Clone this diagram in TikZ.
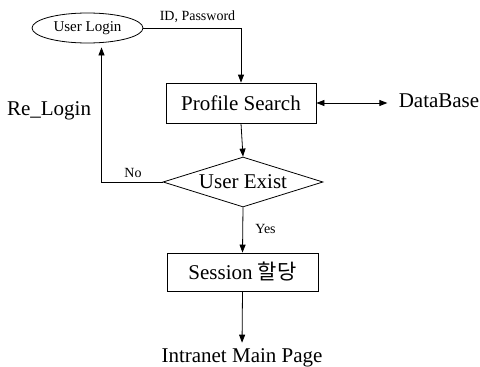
\documentclass[tikz,border=0pt]{standalone}
\usepackage{fontspec}
\setmainfont{Liberation Serif}
\newfontfamily\krfont{Noto Sans CJK KR}
\usetikzlibrary{arrows.meta, shapes.geometric}

\begin{document}
\begin{tikzpicture}[x=1pt, y=-1pt, line width=0.8pt,
	arr/.style={-{Triangle[length=8pt,width=6pt]}},
	dbarr/.style={{Triangle[length=8pt,width=6pt]}-{Triangle[length=8pt,width=6pt]}},
	box/.style={draw, rectangle, inner sep=0pt, font=\fontsize{21}{24}\selectfont},
	lbl/.style={anchor=base, inner sep=0pt, font=\fontsize{14}{16}\selectfont},
	big/.style={anchor=base, inner sep=0pt, font=\fontsize{21}{24}\selectfont}]
	\useasboundingbox (0,0) rectangle (480,367);
	\node[draw, ellipse, minimum width=111pt, minimum height=30pt, inner sep=0pt, font=\fontsize{15}{17}\selectfont] (login) at (87.5,28) {User Login};
	\node[box, minimum width=150pt, minimum height=40pt] (search) at (241,103) {Profile Search};
	\node[box, diamond, minimum width=160pt, minimum height=50pt, shape aspect=3.2] (exist) at (243,182) {User Exist};
	\node[box, minimum width=151pt, minimum height=38pt] (session) at (242.5,272) {Session {\krfont 할당}};
	\node[big] (main) at (242,362) {Intranet Main Page};
	\node[big] (db) at (439,107) {DataBase};
	\node[big] (relogin) at (49,115) {Re\_Login};
	\node[lbl] (idpw) at (197.5,20) {ID, Password};
	\node[lbl] (no) at (133,177) {No};
	\node[lbl] (yes) at (265.5,233) {Yes};
	\draw[arr] (login.east) -| (search.north);
	\draw[dbarr, shorten >=11pt] (search.east) -- (search.east -| db.west);
	\draw[arr] (search.south) -- (exist.north);
	\draw[arr, shorten >=4pt] (exist.west) -| ([xshift=14pt]login.south);
	\draw[arr] (exist.south) -- (session.north);
	\draw[arr, shorten >=5pt] (session.south) -- (main.north);
\end{tikzpicture}
\end{document}
